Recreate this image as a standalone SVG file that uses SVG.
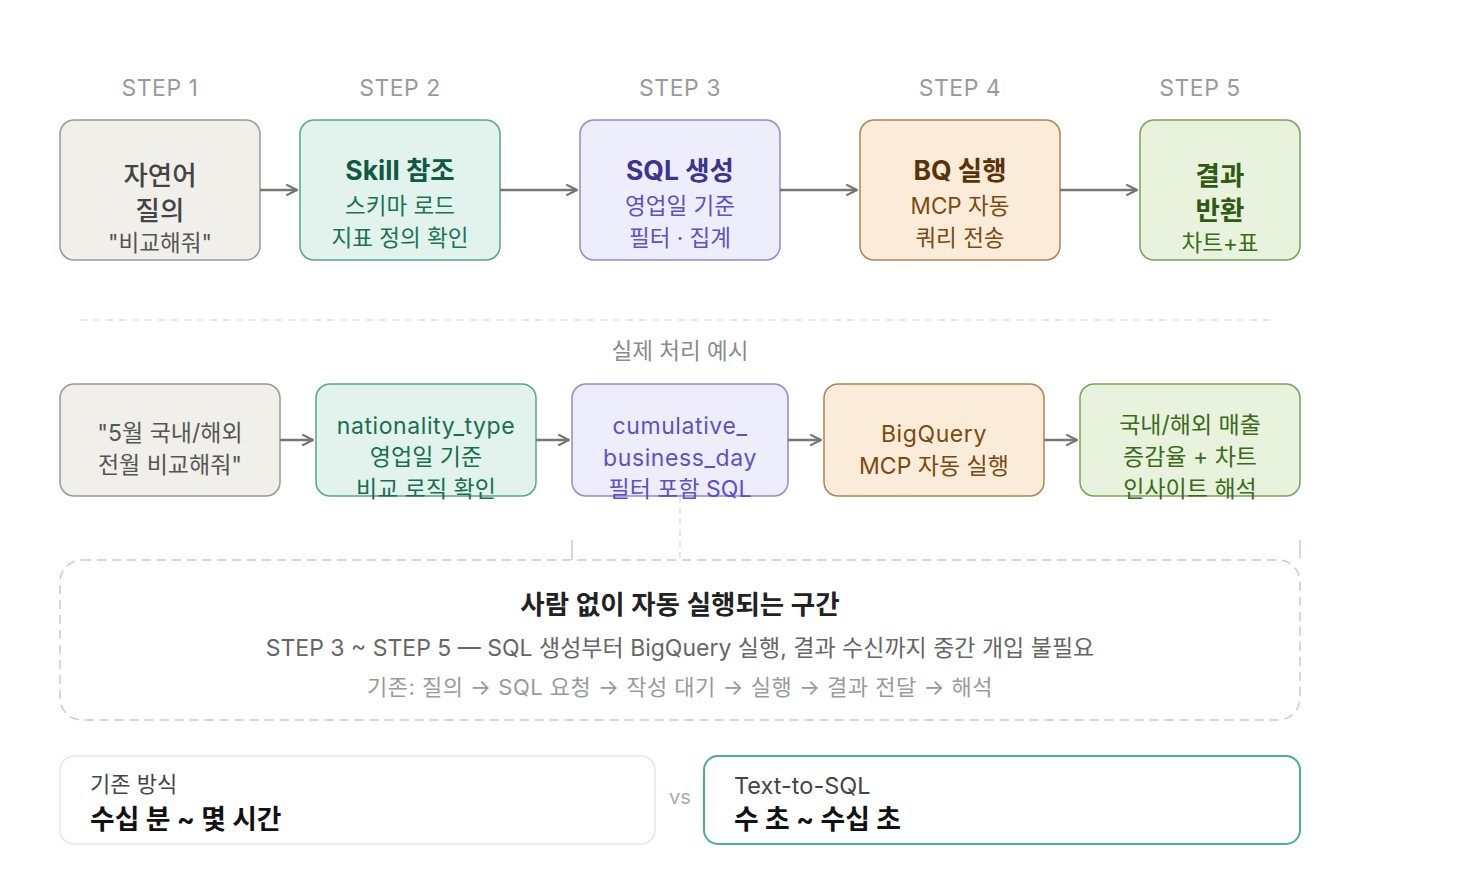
<svg xmlns="http://www.w3.org/2000/svg" width="1472" height="880" viewBox="0 0 1472 880">
<defs>
<marker id="arr" viewBox="0 0 12 12" refX="11" refY="6" markerWidth="12" markerHeight="12" markerUnits="userSpaceOnUse" orient="auto">
<path d="M1,1 L11,6 L1,11" fill="none" stroke="#777772" stroke-width="2" stroke-linecap="round" stroke-linejoin="round"/>
</marker>
<style>
text{font-family:Inter,"Noto Sans CJK KR","Noto Sans",sans-serif;text-anchor:middle}
.step{font-size:23px;fill:#9a9a9a;letter-spacing:0.5px}
.title{font-size:26.5px;font-weight:700}
.sub{font-size:22.5px}
.ex{font-size:23px}
.lat{letter-spacing:0.6px}
.conn{stroke:#777772;stroke-width:2.5;fill:none}
.gray{fill:#f1efe9;stroke:#9a9893;stroke-width:1.5}
.green{fill:#e1f3ec;stroke:#5aa587;stroke-width:1.5}
.purple{fill:#eeedfc;stroke:#8f88e0;stroke-width:1.5}
.orange{fill:#faecd9;stroke:#b0834f;stroke-width:1.5}
.lime{fill:#e8f2dc;stroke:#76a45a;stroke-width:1.5}
</style>
</defs>
<rect width="1472" height="880" fill="#ffffff"/>

<g id="step-labels">
<text class="step" x="160" y="96">STEP 1</text>
<text class="step" x="400" y="96">STEP 2</text>
<text class="step" x="680" y="96">STEP 3</text>
<text class="step" x="960" y="96">STEP 4</text>
<text class="step" x="1200" y="96">STEP 5</text>
</g>

<g id="step1">
<rect class="gray" x="60" y="120" width="200" height="140" rx="14"/>
<text class="title" x="160" y="185" fill="#444444" style="font-weight:500">자연어</text>
<text class="title" x="160" y="220" fill="#444444" style="font-weight:500">질의</text>
<text class="sub" x="160" y="251" fill="#555555">"비교해줘"</text>
</g>
<g id="step2">
<rect class="green" x="300" y="120" width="200" height="140" rx="14"/>
<text class="title" x="400" y="180" fill="#0f5a40">Skill 참조</text>
<text class="sub" x="400" y="214" fill="#1a7453">스키마 로드</text>
<text class="sub" x="400" y="246" fill="#1a7453">지표 정의 확인</text>
</g>
<g id="step3">
<rect class="purple" x="580" y="120" width="200" height="140" rx="14"/>
<text class="title" x="680" y="180" fill="#3a3492">SQL 생성</text>
<text class="sub" x="680" y="214" fill="#5b52c8">영업일 기준</text>
<text class="sub" x="680" y="246" fill="#5b52c8">필터 · 집계</text>
</g>
<g id="step4">
<rect class="orange" x="860" y="120" width="200" height="140" rx="14"/>
<text class="title" x="960" y="180" fill="#5a3208">BQ 실행</text>
<text class="sub" x="960" y="214" fill="#7a4a10">MCP 자동</text>
<text class="sub" x="960" y="246" fill="#7a4a10">쿼리 전송</text>
</g>
<g id="step5">
<rect class="lime" x="1140" y="120" width="160" height="140" rx="14"/>
<text class="title" x="1220" y="185" fill="#2f5a14">결과</text>
<text class="title" x="1220" y="220" fill="#2f5a14">반환</text>
<text class="sub" x="1220" y="251" fill="#3b6b1a">차트+표</text>
</g>

<g id="separator">
<line x1="80" y1="320" x2="1276" y2="320" stroke="#e2e2e2" stroke-width="1.5" stroke-dasharray="7 6"/>
<text x="680" y="359" style="font-size:22.5px" fill="#8a8a8a">실제 처리 예시</text>
</g>

<g id="ex1">
<rect class="gray" x="60" y="384" width="220" height="112" rx="14"/>
<text class="ex" x="170" y="441" fill="#555555">"5월 국내/해외</text>
<text class="ex" x="170" y="473" fill="#555555">전월 비교해줘"</text>
</g>
<g id="ex2">
<rect class="green" x="316" y="384" width="220" height="112" rx="14"/>
<text class="ex lat" x="426" y="434" fill="#1a6e50">nationality_type</text>
<text class="ex" x="426" y="465" fill="#1a6e50">영업일 기준</text>
<text class="ex" x="426" y="497" fill="#1a6e50">비교 로직 확인</text>
</g>
<g id="ex3">
<rect class="purple" x="572" y="384" width="216" height="112" rx="14"/>
<text class="ex lat" x="680" y="434" fill="#5b52c8">cumulative_</text>
<text class="ex lat" x="680" y="466" fill="#5b52c8">business_day</text>
<text class="ex" x="680" y="497" fill="#5b52c8">필터 포함 SQL</text>
</g>
<g id="ex4">
<rect class="orange" x="824" y="384" width="220" height="112" rx="14"/>
<text class="ex lat" x="934" y="442" fill="#7a4a10">BigQuery</text>
<text class="ex" x="934" y="474" fill="#7a4a10">MCP 자동 실행</text>
</g>
<g id="ex5">
<rect class="lime" x="1080" y="384" width="220" height="112" rx="14"/>
<text class="ex" x="1190" y="433" fill="#3b6b1a">국내/해외 매출</text>
<text class="ex" x="1190" y="465" fill="#3b6b1a">증감율 + 차트</text>
<text class="ex" x="1190" y="497" fill="#3b6b1a">인사이트 해석</text>
</g>

<g id="connectors">
<line class="conn" x1="260" y1="190" x2="297" y2="190" marker-end="url(#arr)"/>
<line class="conn" x1="500" y1="190" x2="577" y2="190" marker-end="url(#arr)"/>
<line class="conn" x1="780" y1="190" x2="857" y2="190" marker-end="url(#arr)"/>
<line class="conn" x1="1060" y1="190" x2="1137" y2="190" marker-end="url(#arr)"/>
<line class="conn" x1="280" y1="440" x2="313" y2="440" marker-end="url(#arr)"/>
<line class="conn" x1="536" y1="440" x2="569" y2="440" marker-end="url(#arr)"/>
<line class="conn" x1="788" y1="440" x2="821" y2="440" marker-end="url(#arr)"/>
<line class="conn" x1="1044" y1="440" x2="1077" y2="440" marker-end="url(#arr)"/>
<line x1="572" y1="540" x2="572" y2="560" stroke="#c8c2f2" stroke-width="1.5"/>
<line x1="1300" y1="540" x2="1300" y2="558" stroke="#c8c2f2" stroke-width="1.5"/>
<line x1="680" y1="497" x2="680" y2="560" stroke="#dcd8f8" stroke-width="1.5" stroke-dasharray="6 5"/>
</g>

<g id="auto-zone">
<rect x="60" y="560" width="1240" height="160" rx="22" fill="none" stroke="#c8c2f2" stroke-width="1.5" stroke-dasharray="9 6"/>
<text x="680" y="614" style="font-size:26.5px;font-weight:600" fill="#222222">사람 없이 자동 실행되는 구간</text>
<text x="680" y="656" style="font-size:23px" fill="#666666">STEP 3 ~ STEP 5 — SQL 생성부터 BigQuery 실행, 결과 수신까지 중간 개입 불필요</text>
<text x="680" y="695" style="font-size:22px;letter-spacing:0.5px" fill="#9a9a9a">기존: 질의 → SQL 요청 → 작성 대기 → 실행 → 결과 전달 → 해석</text>
</g>

<g id="legacy">
<rect x="60" y="756" width="595" height="88" rx="14" fill="#ffffff" stroke="#e6e6e6" stroke-width="1.5"/>
<text x="90" y="792" style="font-size:22px;text-anchor:start" fill="#444444">기존 방식</text>
<text x="90" y="829" style="font-size:26.8px;font-weight:700;text-anchor:start" fill="#111111">수십 분 ~ 몇 시간</text>
</g>
<text id="vs" x="680" y="804" style="font-size:20px" fill="#aaaaaa">vs</text>
<g id="text-to-sql">
<rect x="704" y="756" width="596" height="88" rx="14" fill="#ffffff" stroke="#4caf8a" stroke-width="2"/>
<text x="734" y="794" style="font-size:23.5px;text-anchor:start" fill="#444444">Text-to-SQL</text>
<text x="734" y="829" style="font-size:26.8px;font-weight:700;text-anchor:start" fill="#111111">수 초 ~ 수십 초</text>
</g>
</svg>
